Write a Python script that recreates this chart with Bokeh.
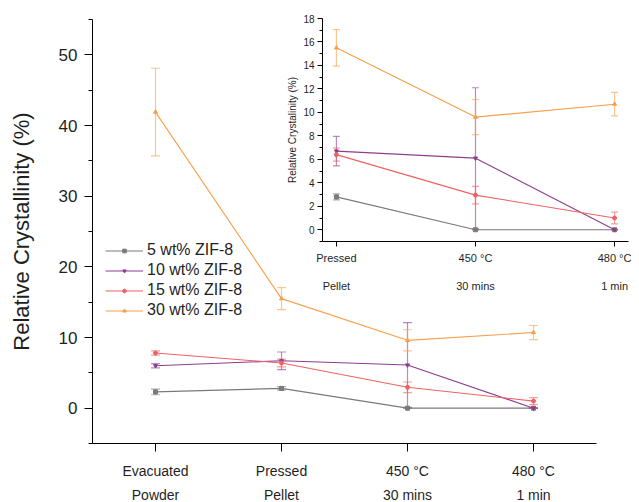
from bokeh.plotting import figure
from bokeh.models import (Range1d, FixedTicker, LinearAxis, Whisker, TeeHead, ColumnDataSource,
                          Legend, LegendItem, GlobalInlineStyleSheet)
from bokeh.layouts import column
from bokeh.embed import file_html
from bokeh.resources import INLINE

# ---------------- data ----------------
x_pos = [0, 1, 2, 3]
labels_line1 = ["Evacuated", "Pressed", "450 °C", "480 °C"]
labels_line2 = ["Powder", "Pellet", "30 mins", "1 min"]

series_names = ["5 wt% ZIF-8", "10 wt% ZIF-8", "15 wt% ZIF-8", "30 wt% ZIF-8"]
wt5 = [2.3, 2.8, 0.0, 0.0]
err5 = [0.4, 0.25, 0.0, 0.0]
wt10 = [6.0, 6.7, 6.1, 0.0]
err10 = [0.3, 1.25, 6.0, 0.0]
wt15 = [7.8, 6.4, 2.95, 1.0]
err15 = [0.3, 0.55, 0.75, 0.5]
wt30 = [41.9, 15.5, 9.6, 10.7]
err30 = [6.2, 1.55, 1.5, 1.0]

main_yticks = [0, 10, 20, 30, 40, 50]
main_yminor = [-5, 5, 15, 25, 35, 45, 55]
inset_yticks = [0, 2, 4, 6, 8, 10, 12, 14, 16, 18]
inset_yminor = [-1, 1, 3, 5, 7, 9, 11, 13, 15, 17]

colors = ["#7a7a7a", "#8e3d8e", "#f06262", "#fa9f4a"]
markers = ["square", "inverted_triangle", "circle", "triangle"]

values = [wt5, wt10, wt15, wt30]
errors = [err5, err10, err15, err30]

FONT = "Liberation Sans"
TXT = "#1f1f1f"
BL, BR = 92, 43   # shared left/right borders (column aligns them)


def style_axis(ax, size):
    ax.axis_line_color = "black"
    ax.major_tick_line_color = "black"
    ax.minor_tick_line_color = "black"
    ax.major_label_text_font = FONT
    ax.major_label_text_font_size = size
    ax.major_label_text_color = TXT
    ax.axis_label_text_font = FONT
    ax.axis_label_text_font_style = "normal"
    ax.axis_label_text_color = TXT


# ---------------- main figure ----------------
p = figure(frame_width=504, frame_height=424, x_range=Range1d(-0.5, 3.5), y_range=Range1d(-5, 55),
           output_backend="svg", toolbar_location=None,
           min_border_left=BL, min_border_right=BR, min_border_top=11, min_border_bottom=70)
p.grid.visible = False
p.outline_line_color = None
p.background_fill_color = "white"

xa = p.xaxis[0]
xa.ticker = FixedTicker(ticks=x_pos, minor_ticks=[])
xa.major_label_overrides = {k: v for k, v in zip(x_pos, labels_line1)}
style_axis(xa, "14px")
xa.major_tick_out = 8
xa.major_tick_in = 0
xa.major_label_standoff = 11

xa2 = LinearAxis(ticker=FixedTicker(ticks=x_pos, minor_ticks=[]),
                 major_label_overrides={k: v for k, v in zip(x_pos, labels_line2)})
style_axis(xa2, "14px")
xa2.axis_line_color = None
xa2.major_tick_line_color = None
xa2.minor_tick_line_color = None
xa2.major_tick_out = 0
xa2.major_label_standoff = 5
p.add_layout(xa2, "below")

ya = p.yaxis[0]
ya.ticker = FixedTicker(ticks=main_yticks, minor_ticks=main_yminor)
style_axis(ya, "17px")
ya.major_tick_out = 8
ya.major_tick_in = 0
ya.minor_tick_out = 4
ya.minor_tick_in = 0
ya.major_label_standoff = 7
ya.axis_label = "Relative Crystallinity (%)"
ya.axis_label_text_font_size = "22px"
ya.axis_label_standoff = 22

items = []
for name, vals, errs, c, m in zip(series_names, values, errors, colors, markers):
    src = ColumnDataSource(dict(x=x_pos, y=vals,
                                upper=[v + e for v, e in zip(vals, errs)],
                                lower=[v - e for v, e in zip(vals, errs)]))
    w = Whisker(base="x", upper="upper", lower="lower", source=src,
                line_color=c, line_alpha=0.6, line_width=1.2,
                upper_head=TeeHead(size=9, line_color=c, line_alpha=0.6, line_width=1.2),
                lower_head=TeeHead(size=9, line_color=c, line_alpha=0.6, line_width=1.2))
    p.add_layout(w)
    ln = p.line("x", "y", source=src, line_color=c, line_width=1.1)
    sc = p.scatter("x", "y", source=src, marker=m, size=4, fill_color=c, line_color=c)
    items.append(LegendItem(label=name, renderers=[ln, sc]))

leg = Legend(items=items, location=(13, 123), padding=0, margin=0, spacing=0,
             border_line_color=None, background_fill_alpha=0,
             glyph_width=38, glyph_height=9, label_height=20, label_standoff=4,
             label_text_font=FONT, label_text_font_size="16px", label_text_color=TXT)
p.add_layout(leg, "center")

p.stylesheets = [GlobalInlineStyleSheet(css="html, body { overflow: hidden; }")]

# ---------------- inset figure ----------------
ix = x_pos[:3]
q = figure(frame_width=306, frame_height=223, x_range=Range1d(-0.1, 2.1), y_range=Range1d(-1, 18),
           output_backend="svg", toolbar_location=None,
           min_border_left=BL, min_border_right=BR, min_border_top=8, min_border_bottom=57)
q.grid.visible = False
q.outline_line_color = None
q.background_fill_alpha = 0
q.border_fill_alpha = 0

qa = q.xaxis[0]
qa.ticker = FixedTicker(ticks=ix, minor_ticks=[])
qa.major_label_overrides = {k: v for k, v in zip(ix, labels_line1[1:])}
style_axis(qa, "11px")
qa.major_tick_out = 5
qa.major_tick_in = 0
qa.major_label_standoff = 5

qa2 = LinearAxis(ticker=FixedTicker(ticks=ix, minor_ticks=[]),
                 major_label_overrides={k: v for k, v in zip(ix, labels_line2[1:])})
style_axis(qa2, "11px")
qa2.axis_line_color = None
qa2.major_tick_line_color = None
qa2.minor_tick_line_color = None
qa2.major_tick_out = 0
qa2.major_label_standoff = 13
q.add_layout(qa2, "below")

qy = q.yaxis[0]
qy.ticker = FixedTicker(ticks=inset_yticks, minor_ticks=inset_yminor)
style_axis(qy, "10px")
qy.major_tick_out = 5
qy.major_tick_in = 0
qy.minor_tick_out = 3
qy.minor_tick_in = 0
qy.major_label_standoff = 3
qy.axis_label = "Relative Crystalinity (%)"
qy.axis_label_text_font_size = "10px"
qy.axis_label_standoff = 2

for vals, errs, c, m in zip(values, errors, colors, markers):
    v3 = vals[1:]
    e3 = errs[1:]
    src = ColumnDataSource(dict(x=ix, y=v3,
                                upper=[v + e for v, e in zip(v3, e3)],
                                lower=[v - e for v, e in zip(v3, e3)]))
    w = Whisker(base="x", upper="upper", lower="lower", source=src,
                line_color=c, line_alpha=0.6, line_width=1.2,
                upper_head=TeeHead(size=7, line_color=c, line_alpha=0.6, line_width=1.2),
                lower_head=TeeHead(size=7, line_color=c, line_alpha=0.6, line_width=1.2))
    q.add_layout(w)
    q.line("x", "y", source=src, line_color=c, line_width=1.1)
    q.scatter("x", "y", source=src, marker=m, size=4, fill_color=c, line_color=c)

main_h = 11 + 424 + 70
p.margin = 0
q.margin = (2 - main_h, 0, 0, 322 - BL)

layout = column(p, q)
layout.margin = (8, 0, 0, 0)

open("out.html", "w").write(file_html(layout, INLINE))
